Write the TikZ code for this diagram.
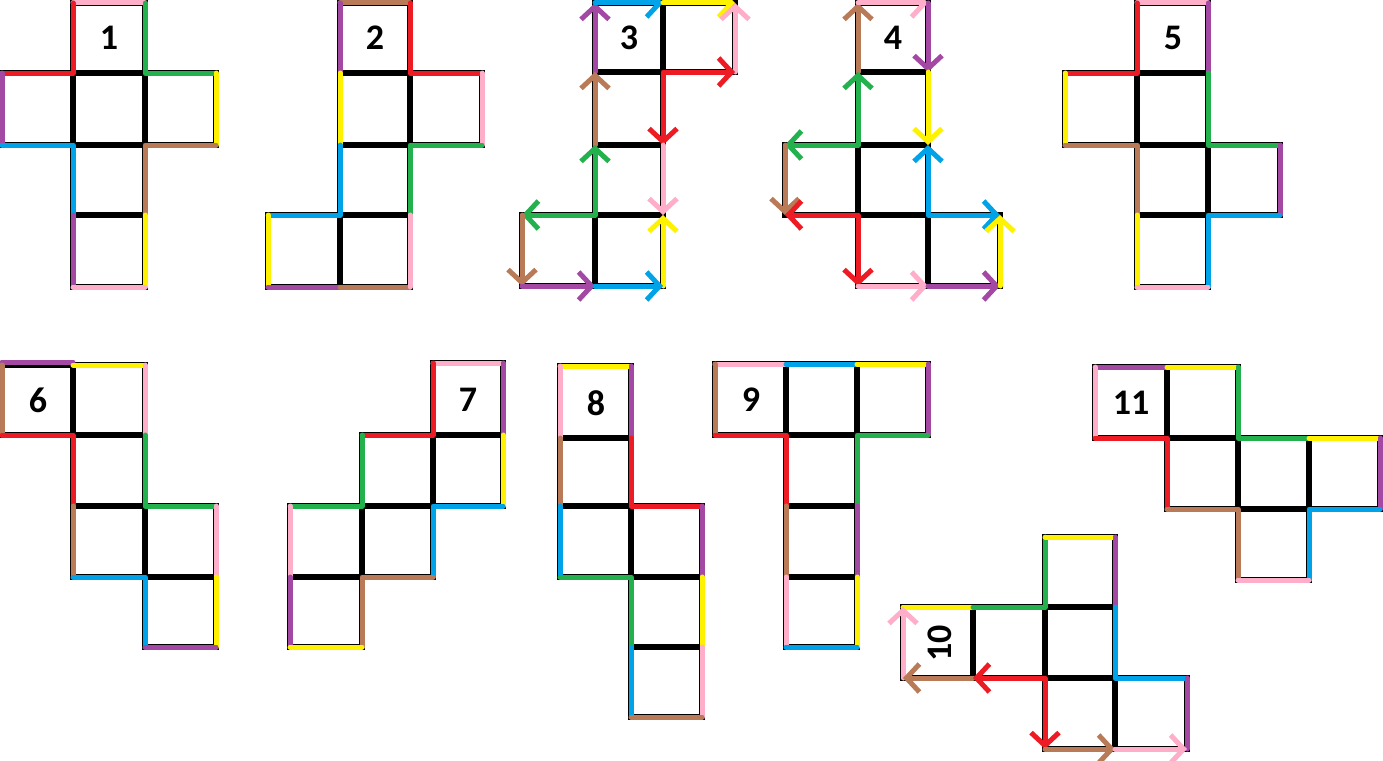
\documentclass[tikz,border=0pt]{standalone}
\usepackage{fontspec}
\setmainfont{Carlito}
\usetikzlibrary{arrows.meta}
\definecolor{cred}{HTML}{ED1C24}
\definecolor{cgreen}{HTML}{22B14C}
\definecolor{cyellow}{HTML}{FFF200}
\definecolor{cblue}{HTML}{00A2E8}
\definecolor{cpurple}{HTML}{A349A4}
\definecolor{cbrown}{HTML}{B97A57}
\definecolor{cpink}{HTML}{FFAEC9}
\tikzset{
  cellline/.style={line width=5.5pt, black},
  edgeline/.style={line width=5pt, line cap=round, line join=round},
  arr/.style={edgeline, -{Straight Barb[length=13pt,width=28pt]}},
  barr/.style={edgeline, {Straight Barb[length=13pt,width=28pt]}-{Straight Barb[length=13pt,width=28pt]}},
  num/.style={font=\fontsize{36}{36}\selectfont\bfseries, inner sep=0pt}
}
\begin{document}
\begin{tikzpicture}[x=1pt,y=-1pt]
\useasboundingbox (0,0) rectangle (1383,760);
% ---------- Net 1 ----------
\foreach \a/\b/\c/\d in {73/3/145/73, 2/73/73/145, 73/73/145/145, 145/73/216/145, 73/145/145/215, 73/215/145/287}
  \draw[cellline] (\a,\b) rectangle (\c,\d);
\draw[edgeline,cpink] (73,3)--(145,3);
\draw[edgeline,cred] (73,3)--(73,73)--(2,73);
\draw[edgeline,cgreen] (145,3)--(145,73)--(216,73);
\draw[edgeline,cyellow] (216,73)--(216,145);
\draw[edgeline,cpurple] (2,73)--(2,145);
\draw[edgeline,cblue] (2,145)--(73,145)--(73,215);
\draw[edgeline,cbrown] (216,145)--(145,145)--(145,215);
\draw[edgeline,cpurple] (73,215)--(73,287);
\draw[edgeline,cyellow] (145,215)--(145,287);
\draw[edgeline,cpink] (73,287)--(145,287);
\node[num] (n1) at (109,38) {1};
% ---------- Net 2 ----------
\foreach \a/\b/\c/\d in {340/3/410/73, 340/73/410/145, 410/73/482/145, 340/145/410/215, 268/215/340/287, 340/215/410/287}
  \draw[cellline] (\a,\b) rectangle (\c,\d);
\draw[edgeline,cbrown] (340,3)--(410,3);
\draw[edgeline,cpurple] (340,3)--(340,73);
\draw[edgeline,cred] (410,3)--(410,73)--(482,73);
\draw[edgeline,cpink] (482,73)--(482,145);
\draw[edgeline,cgreen] (482,145)--(410,145)--(410,215);
\draw[edgeline,cyellow] (340,73)--(340,145);
\draw[edgeline,cblue] (340,145)--(340,215)--(268,215);
\draw[edgeline,cyellow] (268,215)--(268,287);
\draw[edgeline,cpurple] (268,287)--(340,287);
\draw[edgeline,cbrown] (340,287)--(410,287);
\draw[edgeline,cpink] (410,215)--(410,287);
\node[num] (n2) at (375,38) {2};
% ---------- Net 3 ----------
\foreach \a/\b/\c/\d in {595/3/663/72, 663/3/735/72, 595/72/663/145, 595/145/663/215, 522/215/595/286, 595/215/663/286}
  \draw[cellline] (\a,\b) rectangle (\c,\d);
\draw[arr,cpurple] (595,72)--(595,3);
\draw[arr,cblue] (595,3)--(663,3);
\draw[arr,cyellow] (663,3)--(735,3);
\draw[arr,cpink] (735,72)--(735,3);
\draw[barr,cred] (735,72)--(663,72)--(663,145);
\draw[arr,cbrown] (595,145)--(595,72);
\draw[barr,cgreen] (595,145)--(595,215)--(522,215);
\draw[arr,cpink] (663,145)--(663,215);
\draw[arr,cyellow] (663,286)--(663,215);
\draw[arr,cbrown] (522,215)--(522,286);
\draw[arr,cpurple] (522,286)--(595,286);
\draw[arr,cblue] (595,286)--(663,286);
\node[num] (n3) at (629,38) {3};
% ---------- Net 4 ----------
\foreach \a/\b/\c/\d in {858/3/928/72, 858/72/928/145, 785/145/858/215, 858/145/928/215, 858/215/928/286, 928/215/1000/286}
  \draw[cellline] (\a,\b) rectangle (\c,\d);
\draw[arr,cbrown] (858,72)--(858,3);
\draw[arr,cpink] (858,3)--(928,3);
\draw[arr,cpurple] (928,3)--(928,72);
\draw[arr,cyellow] (928,72)--(928,145);
\draw[barr,cgreen] (858,72)--(858,145)--(785,145);
\draw[barr,cblue] (928,145)--(928,215)--(1000,215);
\draw[arr,cbrown] (785,145)--(785,215);
\draw[barr,cred] (785,215)--(858,215)--(858,286);
\draw[arr,cpink] (858,286)--(928,286);
\draw[arr,cpurple] (928,286)--(1000,286);
\draw[arr,cyellow] (1000,286)--(1000,215);
\node[num] (n4) at (893,38) {4};
% ---------- Net 5 ----------
\foreach \a/\b/\c/\d in {1137/3/1208/73, 1065/73/1137/145, 1137/73/1208/145, 1137/145/1208/215, 1208/145/1280/215, 1137/215/1208/287}
  \draw[cellline] (\a,\b) rectangle (\c,\d);
\draw[edgeline,cpink] (1137,3)--(1208,3);
\draw[edgeline,cred] (1137,3)--(1137,73)--(1065,73);
\draw[edgeline,cpurple] (1208,3)--(1208,73);
\draw[edgeline,cyellow] (1065,73)--(1065,145);
\draw[edgeline,cbrown] (1065,145)--(1137,145)--(1137,215);
\draw[edgeline,cgreen] (1208,73)--(1208,145)--(1280,145);
\draw[edgeline,cpurple] (1280,145)--(1280,215);
\draw[edgeline,cblue] (1280,215)--(1208,215)--(1208,287);
\draw[edgeline,cyellow] (1137,215)--(1137,287);
\draw[edgeline,cpink] (1137,287)--(1208,287);
\node[num] (n5) at (1173,38) {5};
% ---------- Net 6 ----------
\foreach \a/\b/\c/\d in {2/365/73/435, 73/365/145/435, 73/435/145/506, 73/506/145/577, 145/506/216/577, 145/577/216/647}
  \draw[cellline] (\a,\b) rectangle (\c,\d);
\draw[edgeline,cpurple] (2,362)--(73,362);
\draw[edgeline,cbrown] (2,365)--(2,435);
\draw[edgeline,cred] (2,435)--(73,435)--(73,506);
\draw[edgeline,cyellow] (73,365)--(145,365);
\draw[edgeline,cpink] (145,365)--(145,435);
\draw[edgeline,cgreen] (145,435)--(145,506)--(216,506);
\draw[edgeline,cpink] (216,506)--(216,577);
\draw[edgeline,cbrown] (73,506)--(73,577);
\draw[edgeline,cblue] (73,577)--(145,577)--(145,647);
\draw[edgeline,cyellow] (216,577)--(216,647);
\draw[edgeline,cpurple] (145,647)--(216,647);
\node[num] (n6) at (38,400) {6};
% ---------- Net 7 ----------
\foreach \a/\b/\c/\d in {433/363/503/435, 362/435/433/506, 433/435/503/506, 290/506/362/577, 362/506/433/577, 290/577/362/647}
  \draw[cellline] (\a,\b) rectangle (\c,\d);
\draw[edgeline,cpink] (433,363)--(503,363);
\draw[edgeline,cpurple] (503,363)--(503,435);
\draw[edgeline,cred] (433,363)--(433,435)--(362,435);
\draw[edgeline,cgreen] (362,435)--(362,506)--(290,506);
\draw[edgeline,cyellow] (503,435)--(503,506);
\draw[edgeline,cblue] (503,506)--(433,506)--(433,577);
\draw[edgeline,cpink] (290,506)--(290,577);
\draw[edgeline,cbrown] (433,577)--(362,577)--(362,647);
\draw[edgeline,cpurple] (290,577)--(290,647);
\draw[edgeline,cyellow] (290,647)--(362,647);
\node[num] (n7) at (468,400) {7};
% ---------- Net 8 ----------
\foreach \a/\b/\c/\d in {560/366/631/438, 560/438/631/506, 560/506/631/577, 631/506/702/577, 631/577/702/647, 631/647/702/717}
  \draw[cellline] (\a,\b) rectangle (\c,\d);
\draw[edgeline,cyellow] (560,366)--(631,366);
\draw[edgeline,cpink] (560,366)--(560,438);
\draw[edgeline,cpurple] (631,366)--(631,438);
\draw[edgeline,cbrown] (560,438)--(560,506);
\draw[edgeline,cred] (631,438)--(631,506)--(702,506);
\draw[edgeline,cpurple] (702,506)--(702,577);
\draw[edgeline,cblue] (560,506)--(560,577);
\draw[edgeline,cgreen] (560,577)--(631,577)--(631,647);
\draw[edgeline,cyellow] (702,577)--(702,647);
\draw[edgeline,cblue] (631,647)--(631,717);
\draw[edgeline,cpink] (702,647)--(702,717);
\draw[edgeline,cbrown] (631,717)--(702,717);
\node[num] (n8) at (596,403) {8};
% ---------- Net 9 ----------
\foreach \a/\b/\c/\d in {715/364/786/435, 786/364/857/435, 857/364/928/435, 786/435/857/506, 786/506/857/577, 786/577/857/647}
  \draw[cellline] (\a,\b) rectangle (\c,\d);
\draw[edgeline,cpink] (715,364)--(786,364);
\draw[edgeline,cbrown] (715,364)--(715,435);
\draw[edgeline,cred] (715,435)--(786,435)--(786,506);
\draw[edgeline,cblue] (786,364)--(857,364);
\draw[edgeline,cyellow] (857,364)--(928,364);
\draw[edgeline,cpurple] (928,364)--(928,435);
\draw[edgeline,cgreen] (928,435)--(857,435)--(857,506);
\draw[edgeline,cbrown] (786,506)--(786,577);
\draw[edgeline,cpurple] (857,506)--(857,577);
\draw[edgeline,cpink] (786,577)--(786,647);
\draw[edgeline,cyellow] (857,577)--(857,647);
\draw[edgeline,cblue] (786,647)--(857,647);
\node[num] (n9) at (751,400) {9};
% ---------- Net 10 ----------
\foreach \a/\b/\c/\d in {1045/537/1115/607, 903/607/973/678, 973/607/1045/678, 1045/607/1115/678, 1045/678/1115/749, 1115/678/1187/749}
  \draw[cellline] (\a,\b) rectangle (\c,\d);
\draw[edgeline,cyellow] (903,607)--(973,607);
\draw[arr,cpink] (903,678)--(903,607);
\draw[arr,cbrown] (973,678)--(903,678);
\draw[edgeline,cgreen] (973,607)--(1045,607)--(1045,537);
\draw[edgeline,cyellow] (1045,537)--(1115,537);
\draw[edgeline,cpurple] (1115,537)--(1115,607);
\draw[edgeline,cblue] (1115,607)--(1115,678)--(1187,678);
\draw[edgeline,cpurple] (1187,678)--(1187,749);
\draw[barr,cred] (973,678)--(1045,678)--(1045,749);
\draw[arr,cbrown] (1045,749)--(1115,749);
\draw[arr,cpink] (1115,749)--(1187,749);
\node[num, rotate=90] (n10) at (940,643) {10};
% ---------- Net 11 ----------
\foreach \a/\b/\c/\d in {1095/367/1167/438, 1167/367/1238/438, 1167/438/1238/509, 1238/438/1309/509, 1309/438/1380/509, 1238/509/1309/580}
  \draw[cellline] (\a,\b) rectangle (\c,\d);
\draw[edgeline,cpurple] (1095,367)--(1167,367);
\draw[edgeline,cpink] (1095,367)--(1095,438);
\draw[edgeline,cred] (1095,438)--(1167,438)--(1167,509);
\draw[edgeline,cyellow] (1167,367)--(1238,367);
\draw[edgeline,cgreen] (1238,367)--(1238,438)--(1309,438);
\draw[edgeline,cyellow] (1309,438)--(1380,438);
\draw[edgeline,cpurple] (1380,438)--(1380,509);
\draw[edgeline,cblue] (1380,509)--(1309,509)--(1309,580);
\draw[edgeline,cbrown] (1167,509)--(1238,509)--(1238,580);
\draw[edgeline,cpink] (1238,580)--(1309,580);
\node[num] (n11) at (1131,403) {11};
\end{tikzpicture}
\end{document}
